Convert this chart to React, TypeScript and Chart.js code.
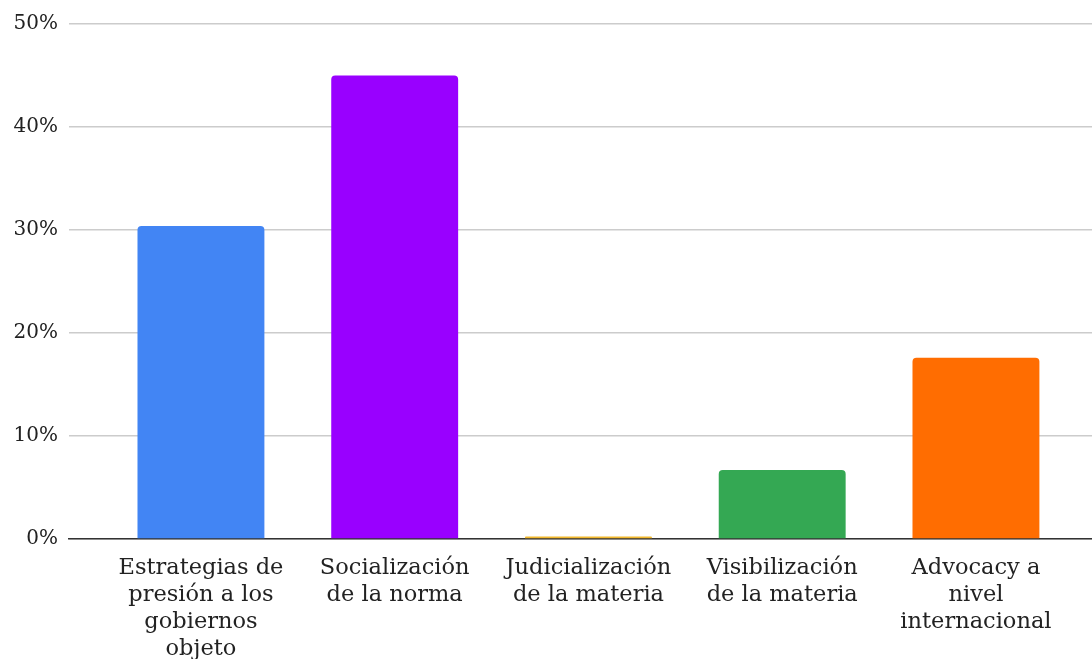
import React, { useEffect, useRef } from "react";
import { Chart, registerables } from "chart.js";

Chart.register(...registerables);

const categories: string[][] = [
  ["Estrategias de", "presión a los", "gobiernos", "objeto"],
  ["Socialización", "de la norma"],
  ["Judicialización", "de la materia"],
  ["Visibilización", "de la materia"],
  ["Advocacy a", "nivel", "internacional"],
];
const values: number[] = [30.4, 45.0, 0.25, 6.7, 17.6];
const barColors: string[] = ["#4285F4", "#9900FF", "#F1B82D", "#34A853", "#FF6D01"];
const yTicks: number[] = [0, 10, 20, 30, 40, 50];

const FONT = "'DejaVu Serif', Georgia, serif";

export default function App() {
  const ref = useRef<HTMLCanvasElement | null>(null);
  useEffect(() => {
    document.body.style.margin = "0";
    const ctx = ref.current!;
    const chart = new Chart(ctx, {
      type: "bar",
      data: {
        datasets: [
          {
            data: values.map((v, i) => ({ x: i, y: v })),
            backgroundColor: barColors,
            borderRadius: { topLeft: 4, topRight: 4, bottomLeft: 0, bottomRight: 0 },
            borderSkipped: "bottom",
            barPercentage: 0.655,
            categoryPercentage: 1,
          },
        ],
      },
      options: {
        animation: false,
        responsive: false,
        maintainAspectRatio: false,
        layout: { padding: { top: 24, right: 0, left: 0, bottom: 0 } },
        plugins: { legend: { display: false }, tooltip: { enabled: false } },
        scales: {
          x: {
            type: "linear",
            offset: false,
            min: -0.681,
            max: 4.599,
            grid: { display: false },
            border: { display: true, color: "#333333", width: 1.5 },
            afterBuildTicks: (s: any) => {
              s.ticks = categories.map((_, i) => ({ value: i }));
            },
            afterFit: (s: any) => {
              s.height = 120;
            },
            ticks: {
              autoSkip: false,
              maxRotation: 0,
              padding: 8,
              color: "#222222",
              font: { family: FONT, size: 22.5, lineHeight: 1.2 },
              callback: (v: any) => categories[Math.round(Number(v))] ?? "",
            },
          },
          y: {
            min: 0,
            max: 50,
            afterBuildTicks: (s: any) => {
              s.ticks = yTicks.map((t) => ({ value: t }));
            },
            afterFit: (s: any) => {
              s.width = 69;
            },
            grid: { color: "#cccccc", lineWidth: 1.5, drawTicks: false },
            border: { display: false },
            ticks: {
              padding: 11,
              color: "#222222",
              font: { family: FONT, size: 20 },
              callback: (v: any) => `${v}%`,
            },
          },
        },
      },
    });
    return () => chart.destroy();
  }, []);
  return (
    <div style={{ position: "absolute", left: 0, top: 0, width: 1092, height: 659, background: "#ffffff" }}>
      <canvas ref={ref} width={1092} height={659} style={{ width: 1092, height: 659, display: "block" }} />
    </div>
  );
}
